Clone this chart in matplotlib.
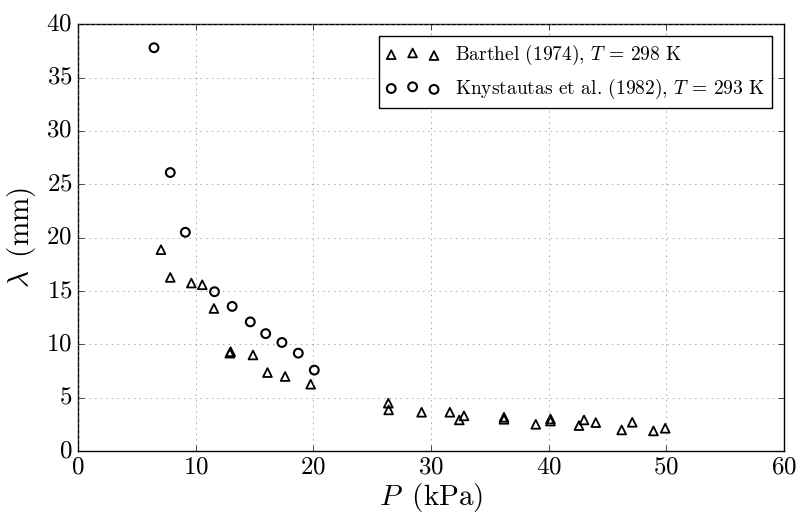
import numpy as np
import matplotlib
matplotlib.use('Agg')
import matplotlib.pyplot as plt

plt.style.use('classic')
plt.rcParams['font.family'] = 'serif'
plt.rcParams['font.serif'] = ['cmr10']
plt.rcParams['mathtext.fontset'] = 'cm'
plt.rcParams['axes.formatter.use_mathtext'] = True

# ============ Data ============
barthel_p = [7.05, 7.84, 9.63, 10.56, 11.55, 12.9, 12.97, 14.87, 16.1, 17.6, 19.77,
             26.37, 26.4, 29.2, 31.6, 32.4, 32.8, 36.2, 36.2, 38.9, 40.15, 40.15,
             42.57, 43.0, 44.0, 46.2, 47.1, 48.9, 49.9]
barthel_lam = [18.87, 16.27, 15.74, 15.58, 13.36, 9.17, 9.3, 9.0, 7.35, 6.98, 6.26,
               4.48, 3.85, 3.63, 3.63, 2.91, 3.29, 3.16, 2.97, 2.5, 3.0, 2.8,
               2.38, 2.91, 2.66, 1.97, 2.69, 1.88, 2.13]

kny_p = [6.46, 7.84, 9.12, 11.6, 13.1, 14.64, 15.95, 17.33, 18.72, 20.08]
kny_lam = [37.8, 26.1, 20.5, 14.93, 13.55, 12.1, 11.0, 10.17, 9.17, 7.58]

# ============ Plot ============
fig = plt.figure(figsize=(7.96, 5.16), dpi=100, facecolor='white')
ax = fig.add_axes([0.098, 0.126, 0.887, 0.827])

ax.scatter(barthel_p, barthel_lam, marker='^', s=40, facecolors='none',
           edgecolors='black', linewidths=1.3,
           label=r'Barthel (1974), $T$ = 298 K')
ax.scatter(kny_p, kny_lam, marker='o', s=40, facecolors='none',
           edgecolors='black', linewidths=1.5,
           label=r'Knystautas et al. (1982), $T$ = 293 K')

ax.set_xlim(0, 60)
ax.set_ylim(0, 40)
ax.set_xticks(np.arange(0, 61, 10))
ax.set_yticks(np.arange(0, 41, 5))
ax.tick_params(labelsize=18)
ax.set_xlabel(r'$P\,$ (kPa)', fontsize=21, labelpad=2)
ax.set_ylabel(r'$\lambda\,$ (mm)', fontsize=21, labelpad=6)
ax.grid(True, color='gray', linestyle=':')

leg = ax.legend(loc='upper right', scatterpoints=3, fontsize=14,
                fancybox=False, frameon=True, borderaxespad=0.6,
                handlelength=2.8, borderpad=0.35)
leg.get_frame().set_edgecolor('black')

fig.savefig('out.png', dpi=100, facecolor='white')
